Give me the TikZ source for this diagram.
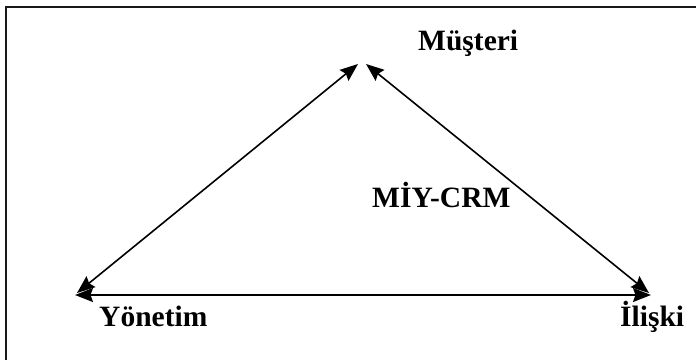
\documentclass[tikz,border=0pt]{standalone}
\usepackage{fontspec}
\setmainfont{Liberation Serif}
\usetikzlibrary{arrows.meta}
\tikzset{
  lbl/.style={anchor=base west, inner sep=0pt, font=\bfseries\fontsize{29.5}{31}\selectfont},
  dbl/.style={line width=1.6pt, {Stealth[length=18pt,width=14pt,inset=2.5pt]}-{Stealth[length=18pt,width=14pt,inset=2.5pt]}},
  frame/.style={line width=2pt, black!90}
}
\begin{document}
\begin{tikzpicture}[x=1pt,y=-1pt]
\useasboundingbox (0,0) rectangle (696,360);
\fill[white] (0,0) rectangle (696,360);
\draw[frame] (6,360) -- (6,6.5) -- (696,6.5);
\coordinate (YL) at (75,295);
\coordinate (YD) at (77,293);
\coordinate (ML) at (358,64);
\coordinate (MR) at (366,64);
\coordinate (IH) at (651,295);
\coordinate (ID) at (649,293);
\draw[dbl] (YL) -- (IH);
\draw[dbl] (YD) -- (ML);
\draw[dbl] (MR) -- (ID);
\node[lbl] (mus) at (418,50) {Müşteri};
\node[lbl] (yon) at (99,326) {Yönetim};
\node[lbl] (ili) at (620,326) {İlişki};
\node[lbl] (miy) at (372,207) {MİY-CRM};
\end{tikzpicture}
\end{document}
